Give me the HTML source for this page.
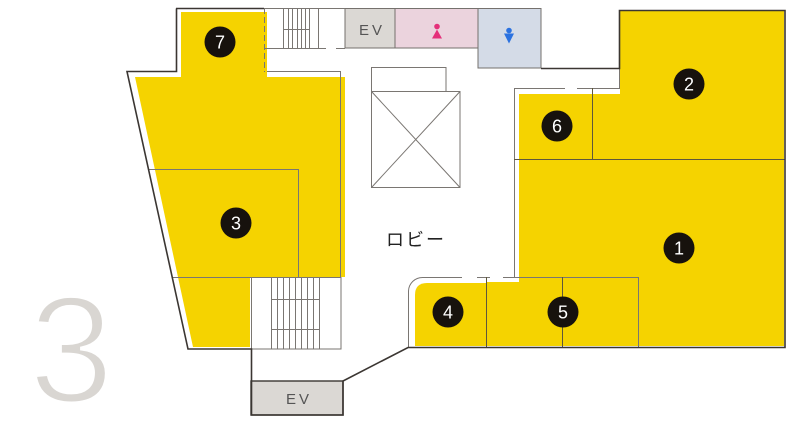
<!DOCTYPE html>
<html><head><meta charset="utf-8"><style>
html,body{margin:0;padding:0;background:#fff;}
svg{display:block;}
</style></head><body>
<svg width="800" height="425" viewBox="0 0 800 425" xmlns="http://www.w3.org/2000/svg">
<!-- big floor number -->
<text x="29" y="402" font-family="Liberation Sans, sans-serif" font-size="152" fill="#d9d6d2" stroke="#fff" stroke-width="4">3</text>

<!-- yellow areas -->
<g fill="#f5d300">
  <rect x="181" y="12" width="86" height="66"/>
  <polygon points="135,77 345,77 345,277 250,277 250,347 193,347"/>
  <rect x="620" y="11" width="164" height="148"/>
  <rect x="519" y="94" width="101" height="66"/>
  <rect x="519" y="159" width="265" height="187"/>
  <rect x="486" y="282" width="34" height="64"/>
  <path d="M415,346 V295 Q415,283 427,283 H487 V346 Z"/>
</g>

<!-- service boxes -->
<rect x="345" y="8.5" width="50" height="39.5" fill="#dbd8d4" stroke="#75716d" stroke-width="1"/>
<rect x="395" y="8.5" width="83" height="39.5" fill="#ebd3dd" stroke="#75716d" stroke-width="1"/>
<rect x="478" y="8.5" width="63" height="59.5" fill="#d4dbe7" stroke="#75716d" stroke-width="1"/>
<rect x="251" y="381" width="92" height="34" fill="#dbd8d4"/>

<!-- toilet icons -->
<circle cx="437" cy="26.5" r="2.8" fill="#e4307a"/>
<polygon points="437,29.5 432,38.5 442,38.5" fill="#e4307a"/>
<circle cx="509" cy="30.5" r="2.8" fill="#2b72e0"/>
<polygon points="504,33.5 514,33.5 509,43.5" fill="#2b72e0"/>

<!-- gray inner lines -->
<g fill="none" stroke="#7a7672" stroke-width="1">
  <path d="M267,71.5 H340.5 V277"/>
  <path d="M149,169.5 H298.5 V277"/>
  <path d="M173,277.5 H341"/>
  <path d="M264.5,8 V72" stroke-dasharray="6,3"/>
  <!-- top stairs -->
  <path d="M283.5,9 V48 M288.5,9 V48 M292.5,9 V48 M297.5,9 V48 M301.5,9 V48 M305.5,9 V48 M309.5,9 V48 M318.5,9 V48"/>
  <path d="M283,29.5 H310"/>
  <path d="M264,48.5 H326 M336,48.5 H345"/>
  <path d="M264,8.5 H345"/>
  <!-- bottom stairs -->
  <rect x="251.5" y="277.5" width="89.5" height="71.5"/>
  <path d="M271.5,277 V349 M277.5,277 V349 M283.5,277 V349 M289.5,277 V349 M295.5,277 V349 M301.5,277 V349 M307.5,277 V349 M313.5,277 V349 M319.5,277 V349"/>
  <path d="M271,299.5 H320 M271,329.5 H320"/>
  <!-- elevator shaft -->
  <rect x="371.5" y="67.5" width="74.5" height="24"/>
  <rect x="371.5" y="91.5" width="88.5" height="96"/>
  <path d="M371.5,91.5 L460,187.5 M460,91.5 L371.5,187.5"/>
  <!-- right rooms outline -->
  <path d="M514.5,277 V88.5 H565 M577,88.5 H619.5 V68"/>
  <path d="M408.5,347 V291 A14,14 0 0 1 422.5,277.5 H462 M477,277.5 H490 M503,277.5 H638.5 V347"/>
</g>
<g fill="none" stroke="#5e573c" stroke-width="1">
  <path d="M592.5,88 V159.5"/>
  <path d="M514,159.5 H785"/>
  <path d="M486.5,277 V347"/>
  <path d="M562.5,277 V347"/>
</g>

<!-- dark outer walls -->
<path d="M176.5,8.5 V71.5 H127 L188,349 H251.5 V415 H343 V381 L408,347.5 H785 V10.5 H619.5 V68.5 H541" fill="none" stroke="#3b3632" stroke-width="1.6" stroke-linejoin="miter"/>
<path d="M176,8.5 H264" fill="none" stroke="#3b3632" stroke-width="1.4"/>
<rect x="251" y="381" width="92" height="34" fill="none" stroke="#3b3632" stroke-width="1.4"/>

<!-- labels -->
<g font-family="Liberation Sans, sans-serif" fill="#555" font-size="15" text-anchor="middle" letter-spacing="3">
  <text x="372" y="35">EV</text>
  <text x="299" y="404">EV</text>
</g>
<text x="386" y="246" font-family="Liberation Sans, 'Noto Sans CJK JP', sans-serif" font-size="18" fill="#222" letter-spacing="2">ロビー</text>

<!-- number badges -->
<g fill="#17120d">
  <circle cx="220" cy="42" r="15.5"/>
  <circle cx="689" cy="84" r="15.5"/>
  <circle cx="557" cy="126" r="15.5"/>
  <circle cx="236" cy="223" r="15.5"/>
  <circle cx="679" cy="248" r="15.5"/>
  <circle cx="448" cy="312" r="15.5"/>
  <circle cx="563" cy="312" r="15.5"/>
</g>
<g font-family="Liberation Sans, sans-serif" fill="#fff" font-size="18" text-anchor="middle">
  <text x="220" y="48.5">7</text>
  <text x="689" y="90.5">2</text>
  <text x="557" y="132.5">6</text>
  <text x="236" y="229.5">3</text>
  <text x="679" y="254.5">1</text>
  <text x="448" y="318.5">4</text>
  <text x="563" y="318.5">5</text>
</g>
</svg>
</body></html>
